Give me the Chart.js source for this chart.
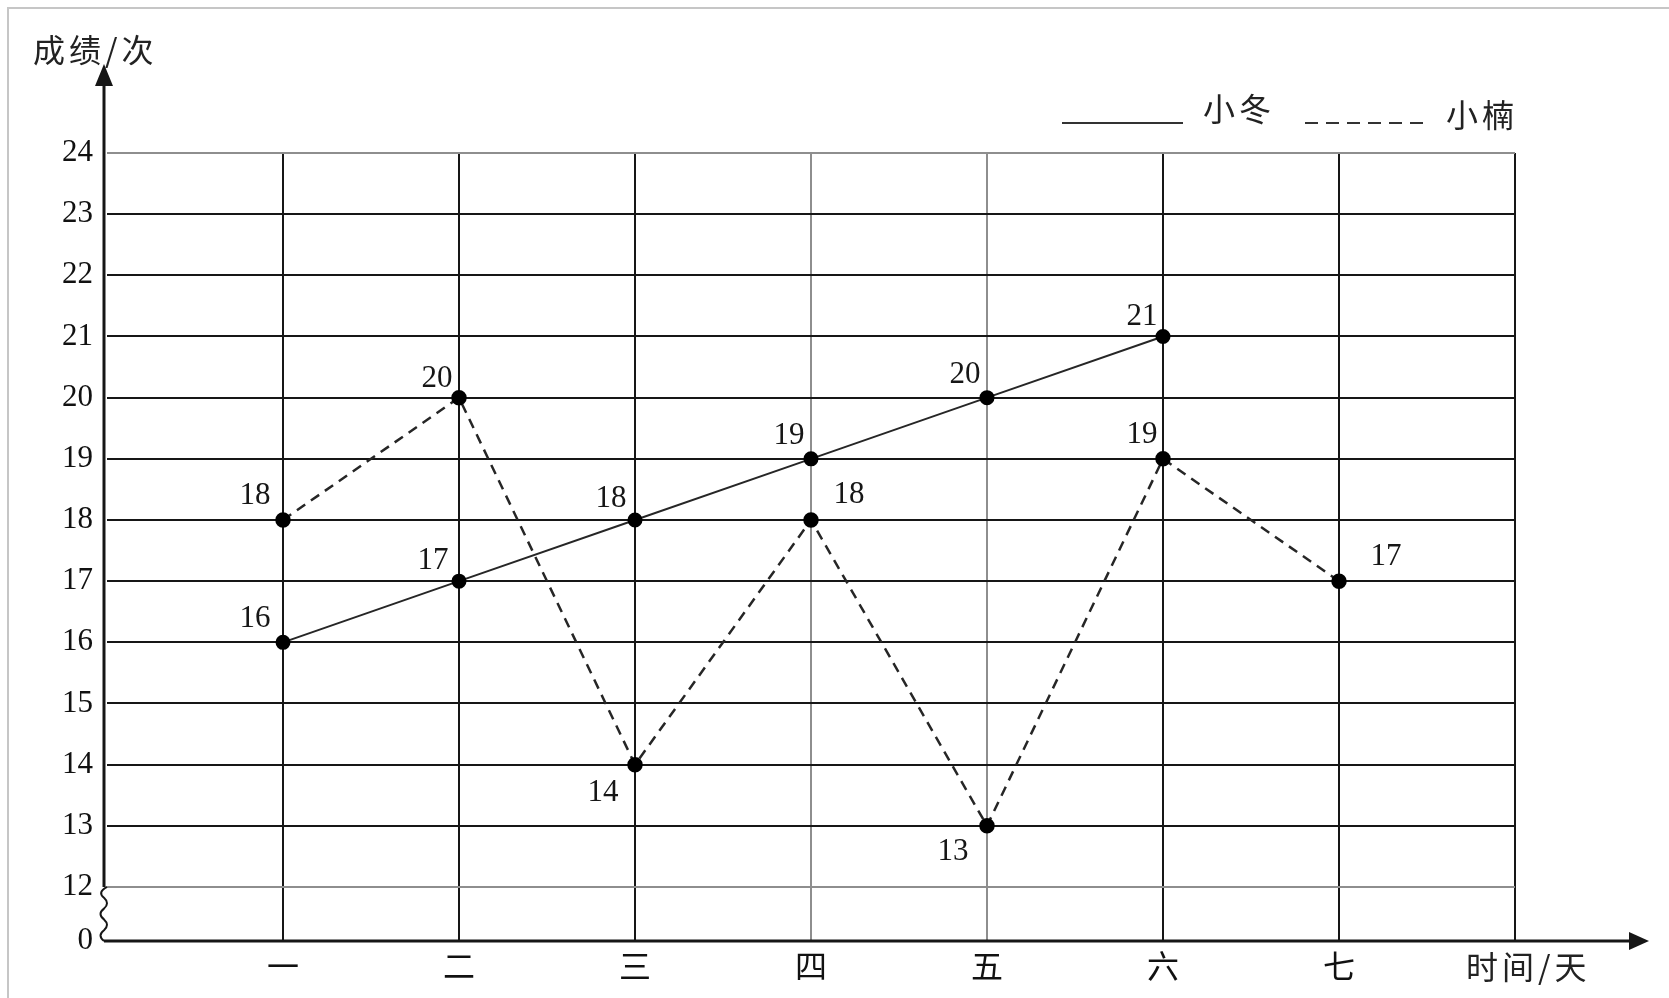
<!DOCTYPE html>
<html lang="zh">
<head>
<meta charset="UTF-8">
<title>成绩折线图</title>
<script src="https://cdn.jsdelivr.net/npm/chart.js@4.4.1/dist/chart.umd.min.js"></script>
<style>
    html, body { margin: 0; padding: 0; background: #fff; }
    #wrap { width: 1669px; height: 998px; position: relative; }
</style>
</head>
<body>
<div id="wrap"><canvas id="myChart"></canvas></div>
<script>
// 1. DATA
const days = ['一', '二', '三', '四', '五', '六', '七'];
const xiaodong = [16, 17, 18, 19, 20, 21, null];
const xiaonan = [18, 20, 14, 18, 13, 19, 17];
const yTicks = [12, 13, 14, 15, 16, 17, 18, 19, 20, 21, 22, 23, 24];
const seriesNames = ['小冬', '小楠'];

// value label placement (dx, dy from the point)
const dongLabelPos = [[-28, -25], [-26, -22], [-24, -23], [-22, -25], [-22, -25], [-21, -22], [0, 0]];
const nanLabelPos = [[-28, -26], [-22, -21], [-32, 26], [38, -27], [-34, 24], [-21, -26], [47, -26]];

// 2. HELPERS
const CJK = '"Noto Sans CJK SC", "Noto Sans", sans-serif';
const SERIF = '"Liberation Serif", "DejaVu Serif", serif';
const BREAK_VALUE = 11.117; // where the "0" sits below the axis break
const GRAY = '#8e8e8e';
const INK = '#161616';

function toPoints(values) {
    return values.map((v, i) => ({ x: i + 1, y: v }));
}

// 3. CUSTOM DRAWING: frame, axes with arrows, axis break, titles, legend, value labels
const decorPlugin = {
    id: 'decor',
    beforeDraw(chart) {
        const ctx = chart.ctx;
        ctx.save();
        ctx.fillStyle = '#fff';
        ctx.fillRect(0, 0, chart.width, chart.height);
        ctx.strokeStyle = '#c6c6c6';
        ctx.lineWidth = 2;
        ctx.beginPath();
        ctx.moveTo(8, chart.height);
        ctx.lineTo(8, 8);
        ctx.lineTo(chart.width, 8);
        ctx.stroke();
        ctx.restore();
    },
    afterDatasetsDraw(chart) {
        const ctx = chart.ctx;
        const xs = chart.scales.x;
        const ys = chart.scales.y;
        const x0 = xs.getPixelForValue(0) - 3;
        const y0 = ys.getPixelForValue(BREAK_VALUE);
        const y12 = ys.getPixelForValue(12);

        ctx.save();
        ctx.strokeStyle = INK;
        ctx.fillStyle = INK;
        ctx.lineWidth = 3;

        // y axis: straight part with arrow on top
        ctx.beginPath();
        ctx.moveTo(x0, y12);
        ctx.lineTo(x0, 80);
        ctx.stroke();
        ctx.beginPath();
        ctx.moveTo(x0, 64);
        ctx.lineTo(x0 - 9, 86);
        ctx.lineTo(x0 + 9, 86);
        ctx.closePath();
        ctx.fill();

        // axis break squiggle between 0 and 12
        ctx.lineWidth = 2;
        ctx.beginPath();
        ctx.moveTo(x0 + 3, y12);
        const steps = 5;
        const h = (y0 - y12) / steps;
        for (let i = 0; i < steps; i++) {
            const side = i % 2 === 0 ? -7 : 6;
            ctx.quadraticCurveTo(x0 + side, y12 + h * (i + 0.5), x0, y12 + h * (i + 1));
        }
        ctx.stroke();

        // x axis with arrow on the right
        ctx.lineWidth = 3;
        ctx.beginPath();
        ctx.moveTo(x0, y0);
        ctx.lineTo(1635, y0);
        ctx.stroke();
        ctx.beginPath();
        ctx.moveTo(1649, y0);
        ctx.lineTo(1629, y0 - 9);
        ctx.lineTo(1629, y0 + 9);
        ctx.closePath();
        ctx.fill();

        // axis titles
        ctx.font = '32px ' + CJK;
        ctx.textBaseline = 'middle';
        ctx.textAlign = 'left';
        ctx.fillStyle = '#222';
        ctx.letterSpacing = '4px';
        ctx.fillText('成绩/次', 33, 50);
        ctx.fillText('时间/天', 1466, 967);

        // legend
        chart.data.datasets.forEach((ds, i) => {
            const lx = i === 0 ? 1062 : 1305;
            const ly = 123;
            ctx.strokeStyle = '#333';
            ctx.lineWidth = 2;
            ctx.setLineDash(ds.borderDash ? [13, 8] : []);
            ctx.beginPath();
            ctx.moveTo(lx, ly);
            ctx.lineTo(lx + 121, ly);
            ctx.stroke();
            ctx.setLineDash([]);
            ctx.fillText(ds.label, lx + 141, i === 0 ? 109 : 115);
        });
        ctx.letterSpacing = '0px';

        // value labels
        ctx.font = '31px ' + SERIF;
        ctx.fillStyle = INK;
        ctx.textAlign = 'center';
        ctx.textBaseline = 'middle';
        chart.data.datasets.forEach((ds, i) => {
            const meta = chart.getDatasetMeta(i);
            const offsets = i === 0 ? dongLabelPos : nanLabelPos;
            meta.data.forEach((pt, j) => {
                const v = ds.data[j].y;
                if (v === null || v === undefined) return;
                ctx.fillText(String(v), pt.x + offsets[j][0], pt.y + offsets[j][1] + 2);
            });
        });
        ctx.restore();
    }
};

// 4. CHART.JS INITIALIZATION
document.addEventListener('DOMContentLoaded', function() {
    const ctx = document.getElementById('myChart').getContext('2d');

    new Chart(ctx, {
        type: 'line',
        data: {
            datasets: [
                {
                    label: seriesNames[0],
                    data: toPoints(xiaodong),
                    borderColor: '#262626',
                    borderWidth: 2,
                    pointRadius: 6.5,
                    pointBackgroundColor: '#000',
                    pointBorderColor: '#000',
                    spanGaps: false
                },
                {
                    label: seriesNames[1],
                    data: toPoints(xiaonan),
                    borderColor: '#262626',
                    borderWidth: 2.5,
                    borderDash: [10, 7],
                    pointRadius: 6.5,
                    pointBackgroundColor: '#000',
                    pointBorderColor: '#000'
                }
            ]
        },
        options: {
            responsive: true,
            maintainAspectRatio: false,
            animation: false,
            layout: { padding: { top: 153, right: 154, left: 0, bottom: 0 } },
            plugins: {
                legend: { display: false },
                tooltip: { enabled: false }
            },
            scales: {
                x: {
                    type: 'linear',
                    min: 0,
                    max: 8,
                    afterBuildTicks: (scale) => {
                        scale.ticks = [1, 2, 3, 4, 5, 6, 7, 8].map(v => ({ value: v }));
                    },
                    afterFit: (scale) => { scale.height = 57; },
                    border: { display: false },
                    grid: {
                        drawTicks: false,
                        lineWidth: 2,
                        color: (c) => (c.tick && (c.tick.value === 4 || c.tick.value === 5)) ? GRAY : INK
                    },
                    ticks: {
                        padding: 6,
                        autoSkip: false,
                        maxRotation: 0,
                        color: '#111',
                        font: { family: CJK, size: 32 },
                        callback: (value) => days[value - 1] || ''
                    }
                },
                y: {
                    type: 'linear',
                    min: BREAK_VALUE,
                    max: 24,
                    afterBuildTicks: (scale) => {
                        scale.ticks = [BREAK_VALUE].concat(yTicks).map(v => ({ value: v }));
                    },
                    afterFit: (scale) => { scale.width = 107; },
                    border: { display: false },
                    grid: {
                        drawTicks: false,
                        lineWidth: 2,
                        color: (c) => {
                            if (!c.tick || c.tick.value < 12) return 'rgba(0,0,0,0)';
                            return (c.tick.value === 12 || c.tick.value === 24) ? GRAY : INK;
                        }
                    },
                    ticks: {
                        padding: 14,
                        color: '#111',
                        font: { family: SERIF, size: 31 },
                        callback: (value) => value < 12 ? '0' : String(value)
                    }
                }
            }
        },
        plugins: [decorPlugin]
    });
});
</script>
</body>
</html>
